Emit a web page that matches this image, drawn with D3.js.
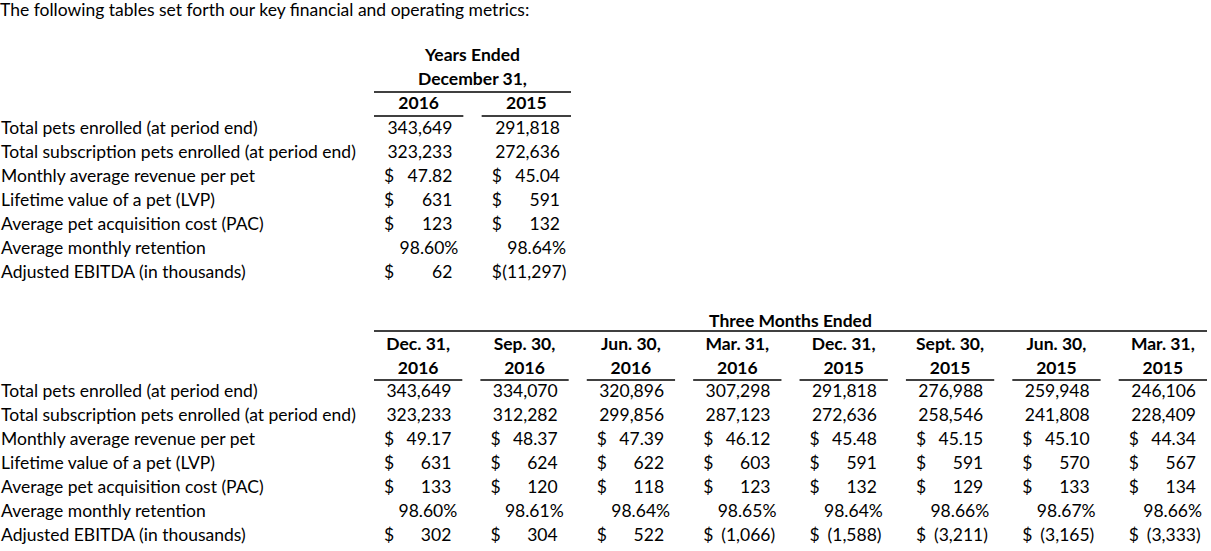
<!DOCTYPE html>
<html lang="en">
<head>
<meta charset="utf-8">
<script src="https://cdn.jsdelivr.net/npm/d3@7"></script>
<style>
body { margin:0; background:#fff; }
svg { display:block; }
text { font-family: Lato, "Open Sans", sans-serif; font-size:17.5px; fill:#000; }
text.hd { font-weight:bold; }
line.rule { stroke:#000; stroke-width:1.3; }
</style>
</head>
<body>
<svg id="chart"></svg>
<script>

var title = "The following tables set forth our key financial and operating metrics:";

var metrics = [
	"Total pets enrolled (at period end)",
	"Total subscription pets enrolled (at period end)",
	"Monthly average revenue per pet",
	"Lifetime value of a pet (LVP)",
	"Average pet acquisition cost (PAC)",
	"Average monthly retention",
	"Adjusted EBITDA (in thousands)"
];
// how each row is printed
var rowKinds = ["count", "count", "money2", "money0", "money0", "pct", "money0"];

var annualHeader = ["Years Ended", "December 31,"];
var annualYears = ["2016", "2015"];
var annualPets = [343649, 291818];
var annualSubs = [323233, 272636];
var annualRevenue = [47.82, 45.04];
var annualLvp = [631, 591];
var annualPac = [123, 132];
var annualRetention = [98.60, 98.64];
var annualEbitda = [62, -11297];

var quarterHeader = "Three Months Ended";
var quarterDates = ["Dec. 31,", "Sep. 30,", "Jun. 30,", "Mar. 31,", "Dec. 31,", "Sept. 30,", "Jun. 30,", "Mar. 31,"];
var quarterYears = ["2016", "2016", "2016", "2016", "2015", "2015", "2015", "2015"];
var quarterPets = [343649, 334070, 320896, 307298, 291818, 276988, 259948, 246106];
var quarterSubs = [323233, 312282, 299856, 287123, 272636, 258546, 241808, 228409];
var quarterRevenue = [49.17, 48.37, 47.39, 46.12, 45.48, 45.15, 45.10, 44.34];
var quarterLvp = [631, 624, 622, 603, 591, 591, 570, 567];
var quarterPac = [133, 120, 118, 123, 132, 129, 133, 134];
var quarterRetention = [98.60, 98.61, 98.64, 98.65, 98.64, 98.66, 98.67, 98.66];
var quarterEbitda = [302, 304, 522, -1066, -1588, -3211, -3165, -3333];

var W = 1211, H = 551;
var svg = d3.select('#chart').attr('width', W).attr('height', H);

var fmtInt = d3.format(",.0f"), fmt2 = d3.format(",.2f");

svg.append('text').attr('x', 0).attr('y', 16).text(title);

// one table: header lines, column rules, rows of values
function drawTable(spec){
	var g = svg.append('g');
	var cols = d3.range(spec.rows[0].length);
	var x = d3.scaleBand().domain(cols).range(spec.xRange).paddingInner(0.17);
	var y = d3.scalePoint().domain(metrics).range(spec.yRange);

	g.selectAll('text.lbl')
		.data(metrics)
		.enter()
		.append('text')
		.attr('class', 'lbl')
		.attr('x', 1)
		.attr('y', function(d){ return y(d); })
		.text(function(d){ return d; });

	// spanning header over all columns
	spec.spanText.forEach(function(t, i){
		g.append('text').attr('class', 'hd')
			.attr('x', (spec.xRange[0] + spec.xRange[1]) / 2 + spec.spanShift)
			.attr('y', spec.spanY[i])
			.attr('text-anchor', 'middle')
			.text(t);
	});
	g.append('line').attr('class', 'rule')
		.attr('x1', spec.xRange[0]).attr('x2', spec.xRange[1])
		.attr('y1', spec.spanRule).attr('y2', spec.spanRule);

	// column headings (one or two lines)
	spec.colHeads.forEach(function(lines, li){
		g.selectAll(null)
			.data(lines)
			.enter()
			.append('text')
			.attr('class', 'hd')
			.attr('text-anchor', 'middle')
			.attr('x', function(d, i){ return x(i) + x.bandwidth() / 2; })
			.attr('y', spec.headY[li])
			.text(function(d){ return d; });
	});
	g.selectAll('line.col')
		.data(cols)
		.enter()
		.append('line')
		.attr('class', 'rule col')
		.attr('x1', function(d){ return x(d); })
		.attr('x2', function(d){ return x(d) + x.bandwidth(); })
		.attr('y1', spec.colRule).attr('y2', spec.colRule);

	// values
	spec.rows.forEach(function(vals, r){
		var kind = rowKinds[r], yy = y(metrics[r]);
		vals.forEach(function(v, c){
			var x0 = x(c), xe = x0 + x.bandwidth() - 11;
			if (kind === 'count') {
				g.append('text').attr('x', xe).attr('y', yy).attr('text-anchor', 'end').text(fmtInt(v));
				return;
			}
			if (kind === 'pct') {
				g.append('text').attr('x', xe + 6).attr('y', yy).attr('text-anchor', 'end').text(fmt2(v) + '%');
				return;
			}
			var dollar = g.append('text').attr('x', x0 + 10).attr('y', yy).text('$');
			var s = kind === 'money2' ? fmt2(Math.abs(v)) : fmtInt(Math.abs(v));
			if (v < 0) {
				var num = g.append('text').attr('x', xe).attr('y', yy).attr('text-anchor', 'end').text('(' + s);
				// wide negatives sit right after the $ sign, like "$(11,297)"
				var minLeft = x0 + 10 + dollar.node().getComputedTextLength() + 0.5;
				var w = num.node().getComputedTextLength();
				var end = Math.max(xe, minLeft + w);
				num.attr('x', end);
				g.append('text').attr('x', end).attr('y', yy).text(')');
			} else {
				g.append('text').attr('x', xe).attr('y', yy).attr('text-anchor', 'end').text(s);
			}
		});
	});
}

drawTable({
	rows: [annualPets, annualSubs, annualRevenue, annualLvp, annualPac, annualRetention, annualEbitda],
	xRange: [374, 571],
	yRange: [134, 278],
	spanText: annualHeader,
	spanY: [61, 85],
	spanShift: 0,
	spanRule: 92,
	colHeads: [annualYears],
	headY: [109],
	colRule: 116
});

drawTable({
	rows: [quarterPets, quarterSubs, quarterRevenue, quarterLvp, quarterPac, quarterRetention, quarterEbitda],
	xRange: [374, 1207],
	yRange: [397, 541],
	spanText: [quarterHeader],
	spanY: [327],
	spanShift: 0,
	spanRule: 331,
	colHeads: [quarterDates, quarterYears],
	headY: [350, 374],
	colRule: 380
});

</script>
</body>
</html>
